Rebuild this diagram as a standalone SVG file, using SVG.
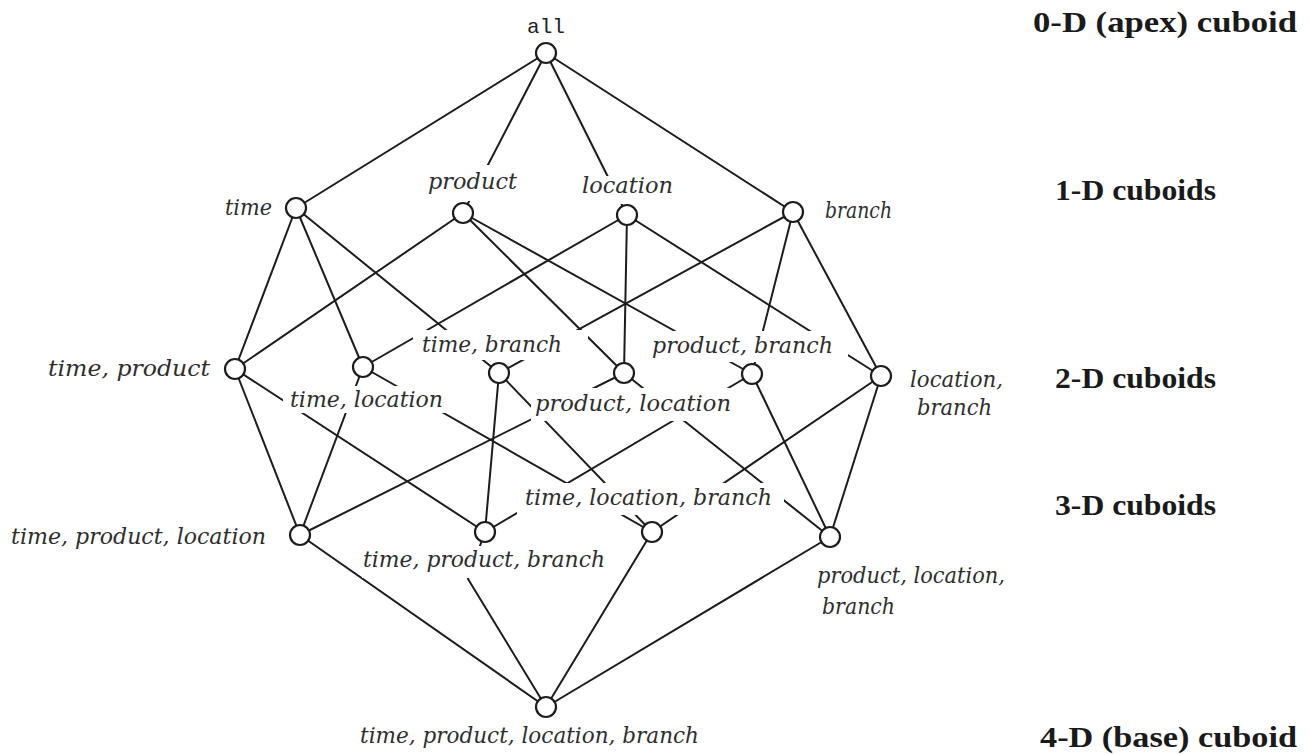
<svg xmlns="http://www.w3.org/2000/svg" width="1310" height="754" viewBox="0 0 1310 754">
  <style>
    .edge { stroke: #1c1c1c; stroke-width: 2; stroke-linecap: round; fill: none; }
    .node { fill: #ffffff; stroke: #1c1c1c; stroke-width: 2.2; }
    .lbl { font-family: "DejaVu Serif", "Liberation Serif", serif; font-style: italic; font-size: 22px; fill: #2e2e2e; }
    .apex { font-family: "Liberation Mono", "DejaVu Sans Mono", monospace; font-size: 21px; fill: #222; }
    .lvl { font-family: "Liberation Serif", "Times New Roman", serif; font-weight: bold; font-size: 30px; fill: #1a1a1a; }
    .knock { fill: #ffffff; }
  </style>

  <rect width="1310" height="754" fill="#ffffff"/>

  <!-- lattice edges, drawn centre to centre; nodes and label knock-outs sit above them -->
  <g id="connectors">
    <!-- apex to 1-D -->
    <line class="edge" x1="546" y1="53" x2="296" y2="208"/>
    <line class="edge" x1="546" y1="53" x2="463" y2="213"/>
    <line class="edge" x1="546" y1="53" x2="627" y2="215"/>
    <line class="edge" x1="546" y1="53" x2="793" y2="212"/>
    <!-- 1-D to 2-D -->
    <line class="edge" x1="296" y1="208" x2="235" y2="369"/>
    <line class="edge" x1="296" y1="208" x2="363" y2="367"/>
    <line class="edge" x1="296" y1="208" x2="499" y2="373"/>
    <line class="edge" x1="463" y1="213" x2="235" y2="369"/>
    <line class="edge" x1="463" y1="213" x2="624" y2="373"/>
    <line class="edge" x1="463" y1="213" x2="752" y2="374"/>
    <line class="edge" x1="627" y1="215" x2="363" y2="367"/>
    <line class="edge" x1="627" y1="215" x2="624" y2="373"/>
    <line class="edge" x1="627" y1="215" x2="881" y2="376"/>
    <line class="edge" x1="793" y1="212" x2="499" y2="373"/>
    <line class="edge" x1="793" y1="212" x2="752" y2="374"/>
    <line class="edge" x1="793" y1="212" x2="881" y2="376"/>
    <!-- 2-D to 3-D -->
    <line class="edge" x1="235" y1="369" x2="300" y2="535"/>
    <line class="edge" x1="235" y1="369" x2="485" y2="532"/>
    <line class="edge" x1="363" y1="367" x2="300" y2="535"/>
    <line class="edge" x1="363" y1="367" x2="652" y2="532"/>
    <line class="edge" x1="499" y1="373" x2="485" y2="532"/>
    <line class="edge" x1="499" y1="373" x2="652" y2="532"/>
    <line class="edge" x1="624" y1="373" x2="300" y2="535"/>
    <line class="edge" x1="624" y1="373" x2="830" y2="537"/>
    <line class="edge" x1="752" y1="374" x2="485" y2="532"/>
    <line class="edge" x1="752" y1="374" x2="830" y2="537"/>
    <line class="edge" x1="881" y1="376" x2="652" y2="532"/>
    <line class="edge" x1="881" y1="376" x2="830" y2="537"/>
    <!-- 3-D to base -->
    <line class="edge" x1="300" y1="535" x2="546" y2="707"/>
    <polyline class="edge" points="485,532 468,579 546,707"/>
    <line class="edge" x1="652" y1="532" x2="546" y2="707"/>
    <line class="edge" x1="830" y1="537" x2="546" y2="707"/>
  </g>

  <!-- 0-D -->
  <g id="n-all">
    <circle class="node" cx="546" cy="53" r="10"/>
    <text class="apex" x="546" y="33" text-anchor="middle">all</text>
  </g>

  <!-- 1-D -->
  <g id="n-time">
    <circle class="node" cx="296" cy="208" r="10"/>
    <text class="lbl" x="225" y="215" textLength="47" lengthAdjust="spacingAndGlyphs">time</text>
  </g>
  <g id="n-product">
    <rect class="knock" x="424" y="165" width="97" height="36"/>
    <circle class="node" cx="463" cy="213" r="10"/>
    <text class="lbl" x="428" y="189" textLength="89" lengthAdjust="spacingAndGlyphs">product</text>
  </g>
  <g id="n-location">
    <rect class="knock" x="578" y="176" width="99" height="28"/>
    <circle class="node" cx="627" cy="215" r="10"/>
    <text class="lbl" x="582" y="193" textLength="91" lengthAdjust="spacingAndGlyphs">location</text>
  </g>
  <g id="n-branch">
    <circle class="node" cx="793" cy="212" r="10"/>
    <text class="lbl" x="825" y="218" textLength="67" lengthAdjust="spacingAndGlyphs">branch</text>
  </g>

  <!-- 2-D -->
  <g id="n-time-product">
    <circle class="node" cx="235" cy="369" r="10"/>
    <text class="lbl" x="48" y="376" textLength="162" lengthAdjust="spacingAndGlyphs">time, product</text>
  </g>
  <g id="n-time-location">
    <rect class="knock" x="283" y="386" width="164" height="27"/>
    <circle class="node" cx="363" cy="367" r="10"/>
    <text class="lbl" x="290" y="407" textLength="153" lengthAdjust="spacingAndGlyphs">time, location</text>
  </g>
  <g id="n-time-branch">
    <rect class="knock" x="413" y="330" width="175" height="30"/>
    <circle class="node" cx="499" cy="373" r="10"/>
    <text class="lbl" x="422" y="352" textLength="140" lengthAdjust="spacingAndGlyphs">time, branch</text>
  </g>
  <g id="n-product-location">
    <rect class="knock" x="531" y="388" width="204" height="33"/>
    <circle class="node" cx="624" cy="373" r="10"/>
    <text class="lbl" x="535" y="411" textLength="196" lengthAdjust="spacingAndGlyphs">product, location</text>
  </g>
  <g id="n-product-branch">
    <rect class="knock" x="645" y="331" width="203" height="31"/>
    <circle class="node" cx="752" cy="374" r="10"/>
    <text class="lbl" x="652" y="353" textLength="181" lengthAdjust="spacingAndGlyphs">product, branch</text>
  </g>
  <g id="n-location-branch">
    <circle class="node" cx="881" cy="376" r="10"/>
    <text class="lbl" x="910" y="387" textLength="93" lengthAdjust="spacingAndGlyphs">location,</text>
    <text class="lbl" x="917" y="415" textLength="75" lengthAdjust="spacingAndGlyphs">branch</text>
  </g>

  <!-- 3-D -->
  <g id="n-time-product-location">
    <circle class="node" cx="300" cy="535" r="10"/>
    <text class="lbl" x="11" y="544" textLength="255" lengthAdjust="spacingAndGlyphs">time, product, location</text>
  </g>
  <g id="n-time-product-branch">
    <rect class="knock" x="362" y="546" width="248" height="32"/>
    <circle class="node" cx="485" cy="532" r="10"/>
    <text class="lbl" x="363" y="567" textLength="242" lengthAdjust="spacingAndGlyphs">time, product, branch</text>
  </g>
  <g id="n-time-location-branch">
    <rect class="knock" x="517" y="483" width="267" height="32"/>
    <circle class="node" cx="652" cy="532" r="10"/>
    <text class="lbl" x="525" y="505" textLength="247" lengthAdjust="spacingAndGlyphs">time, location, branch</text>
  </g>
  <g id="n-product-location-branch">
    <circle class="node" cx="830" cy="537" r="10"/>
    <text class="lbl" x="817" y="583" textLength="188" lengthAdjust="spacingAndGlyphs">product, location,</text>
    <text class="lbl" x="822" y="614" textLength="73" lengthAdjust="spacingAndGlyphs">branch</text>
  </g>

  <!-- 4-D -->
  <g id="n-base">
    <circle class="node" cx="546" cy="707" r="10"/>
    <text class="lbl" x="360" y="743" textLength="339" lengthAdjust="spacingAndGlyphs">time, product, location, branch</text>
  </g>

  <!-- level captions -->
  <g id="levels">
    <text class="lvl" x="1033" y="32" textLength="264" lengthAdjust="spacingAndGlyphs">0-D (apex) cuboid</text>
    <text class="lvl" x="1055" y="200" textLength="161" lengthAdjust="spacingAndGlyphs">1-D cuboids</text>
    <text class="lvl" x="1055" y="388" textLength="161" lengthAdjust="spacingAndGlyphs">2-D cuboids</text>
    <text class="lvl" x="1055" y="515" textLength="161" lengthAdjust="spacingAndGlyphs">3-D cuboids</text>
    <text class="lvl" x="1040" y="747" textLength="257" lengthAdjust="spacingAndGlyphs">4-D (base) cuboid</text>
  </g>
</svg>
